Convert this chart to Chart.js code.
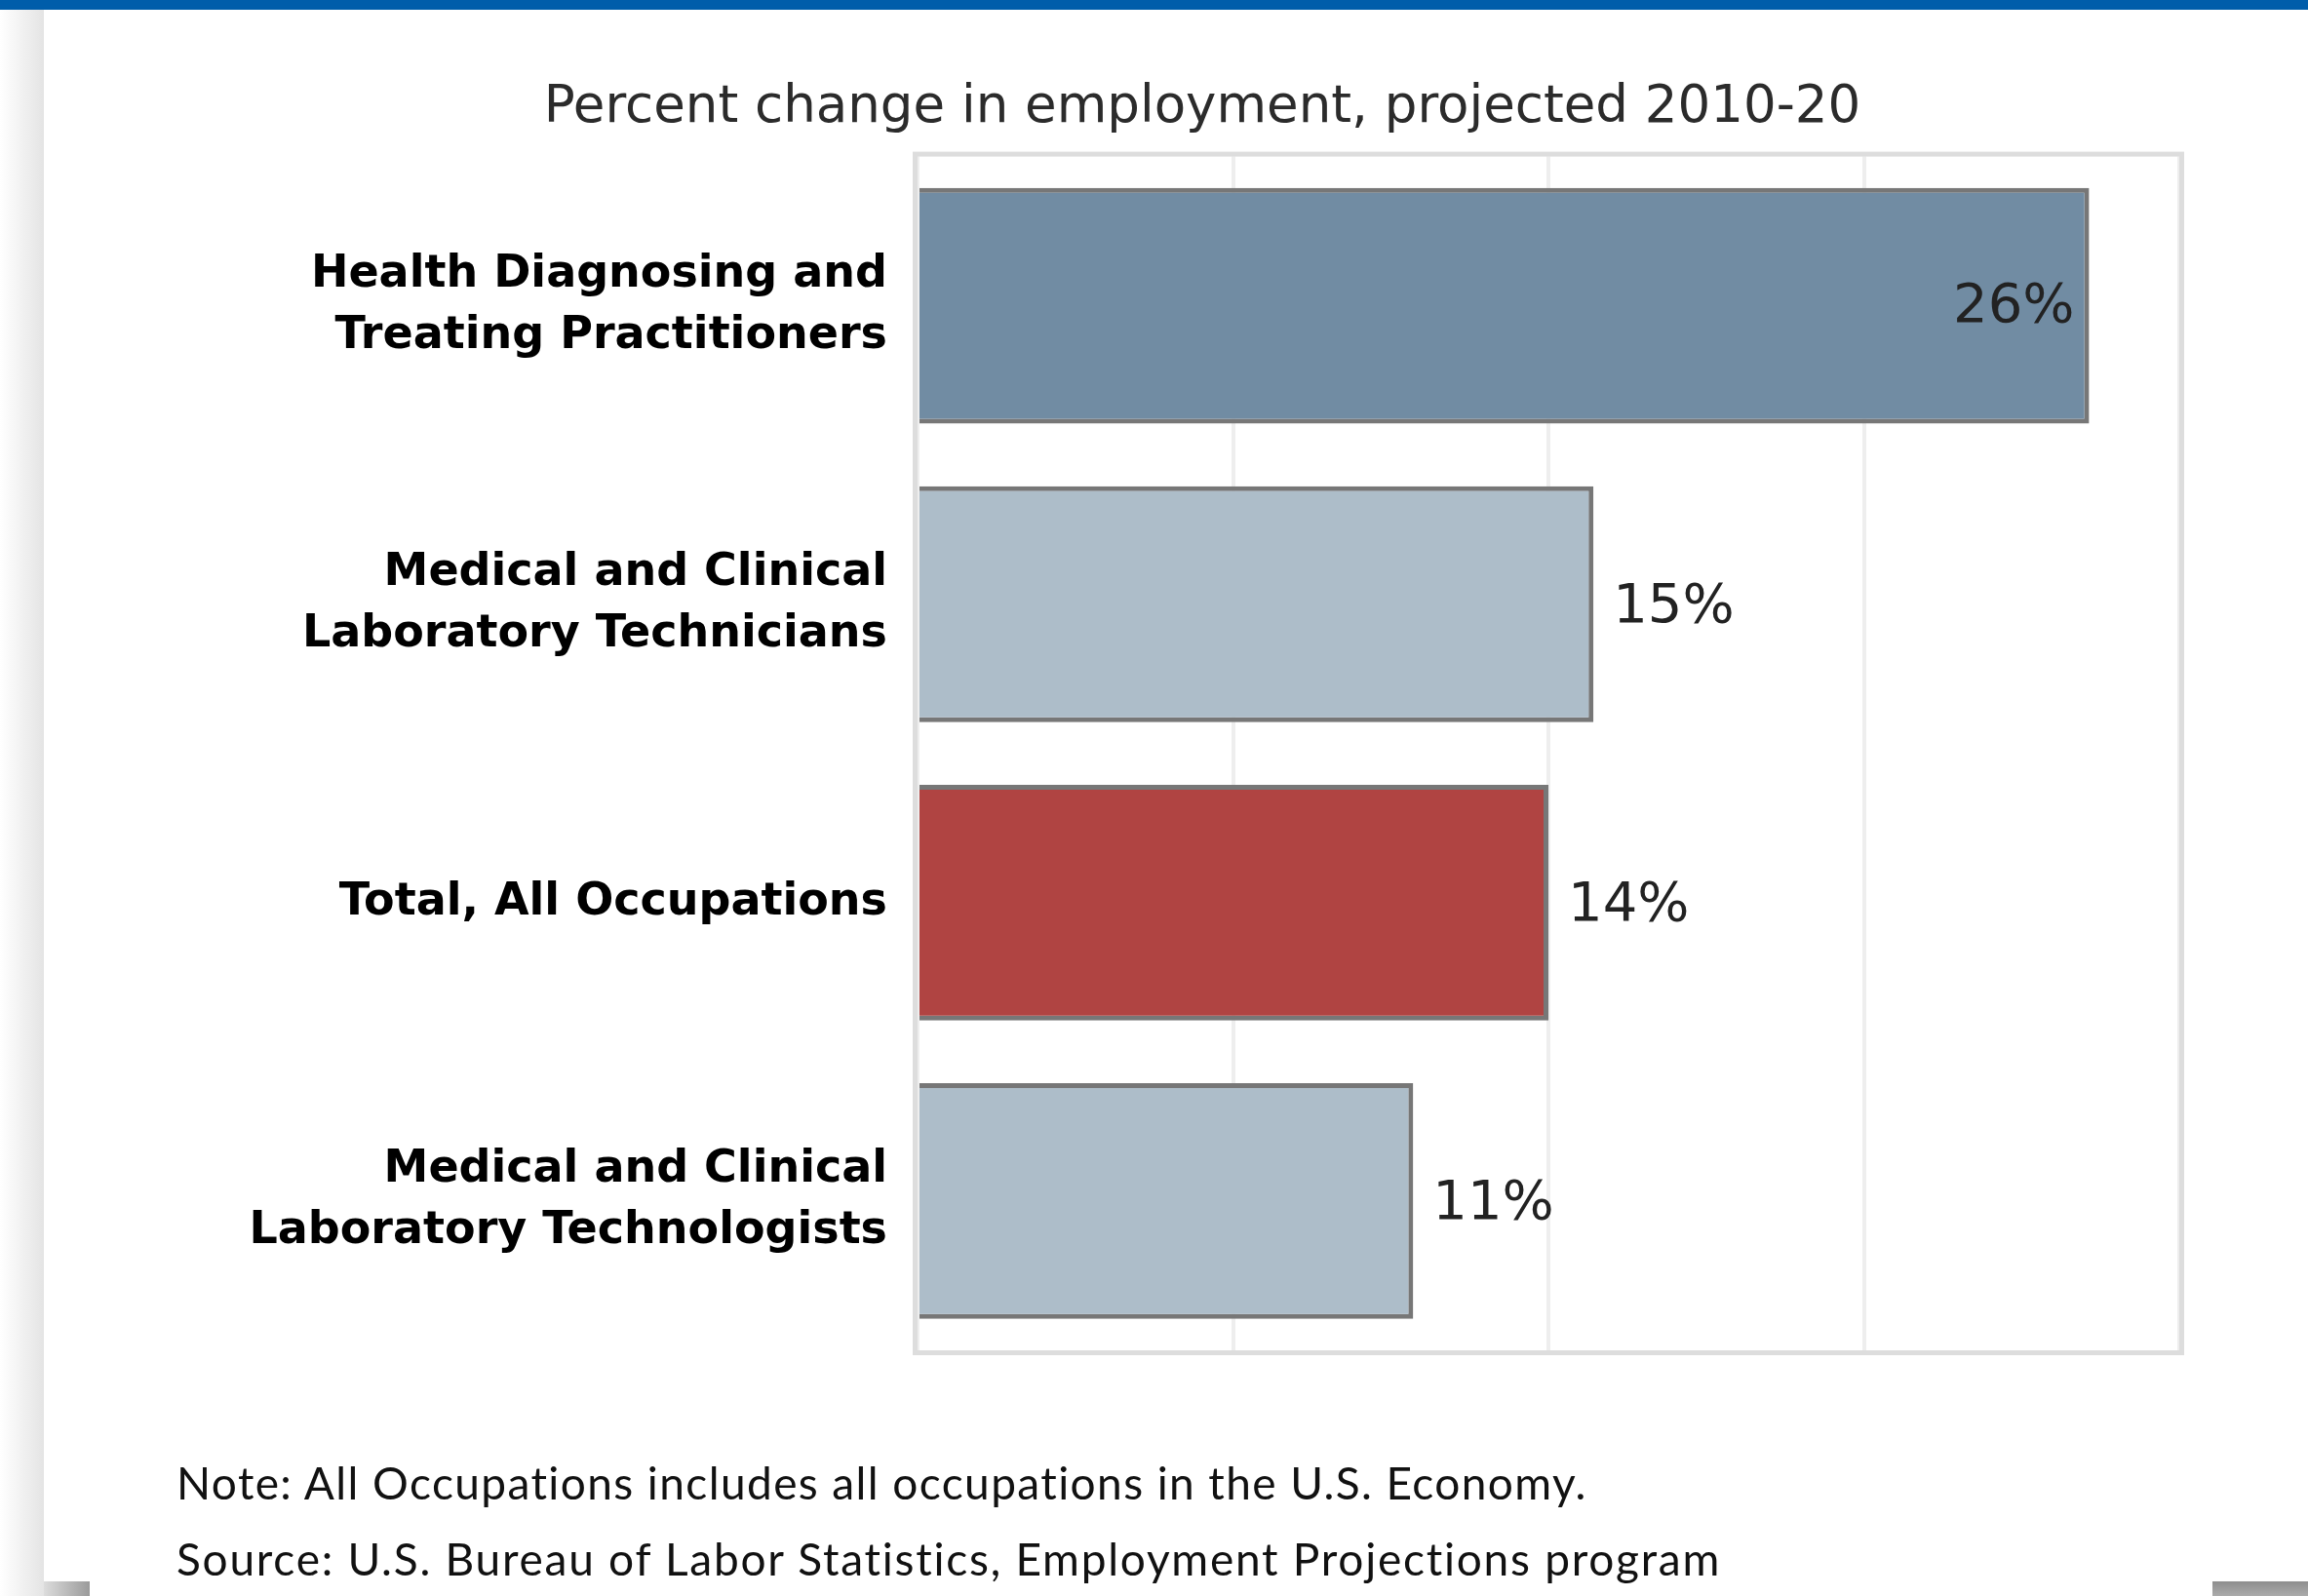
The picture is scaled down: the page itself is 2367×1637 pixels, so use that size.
<!DOCTYPE html>
<html>
<head>
<meta charset="utf-8">
<script src="https://cdn.jsdelivr.net/npm/chart.js@4.4.1/dist/chart.umd.min.js"></script>
<style>
  html, body { margin: 0; padding: 0; background: #fff; }
  body { width: 2367px; height: 1637px; position: relative; overflow: hidden; }
  #topbar { position: absolute; left: 0; top: 0; width: 2367px; height: 10px; background: #005daa; }
  #shadowLeft { position: absolute; left: 0; top: 10px; width: 45px; height: 1627px;
    background: linear-gradient(to right, #ffffff, #e4e4e4); }
  #shadowBL { position: absolute; left: 45px; top: 1622px; width: 47px; height: 15px;
    background: linear-gradient(to right, #dcdcdc, #9a9a9a); }
  #shadowBR { position: absolute; left: 2269px; top: 1622px; width: 98px; height: 15px;
    background: linear-gradient(to bottom, #8e8e8e, #ababab); }
  #wrap { position: absolute; left: 0; top: 0; width: 2367px; height: 1637px; }
  .note { position: absolute; left: 181px; font-family: Lato, "Open Sans", sans-serif;
    font-size: 46px; letter-spacing: 1.4px; color: #111; white-space: nowrap; line-height: 1; }
</style>
</head>
<body>
<div id="topbar"></div>
<div id="shadowLeft"></div>
<div id="shadowBL"></div>
<div id="shadowBR"></div>
<div id="wrap"><canvas id="chart"></canvas></div>
<div class="note" id="note1" style="top:1498px;"></div>
<div class="note" id="note2" style="top:1576px; letter-spacing:1.75px;"></div>
<script>
const chartTitle = "Percent change in employment, projected 2010-20";
const categories = [
    ["Health Diagnosing and", "Treating Practitioners"],
    ["Medical and Clinical", "Laboratory Technicians"],
    ["Total, All Occupations"],
    ["Medical and Clinical", "Laboratory Technologists"]
];
const values = [26, 15, 14, 11];
const barColors = ["#718ca3", "#adbdc9", "#b04442", "#adbdc9"];
const axisMin = 0;
const axisMax = 28;
const axisStep = 7;
const noteText = "Note: All Occupations includes all occupations in the U.S. Economy.";
const sourceText = "Source: U.S. Bureau of Labor Statistics, Employment Projections program";

document.getElementById("note1").textContent = noteText;
document.getElementById("note2").textContent = sourceText;

// light grey frame round the plot area, under the bars
const plotFrame = {
    id: "plotFrame",
    beforeDatasetsDraw(chart) {
        const a = chart.chartArea;
        const ctx = chart.ctx;
        ctx.save();
        ctx.strokeStyle = "#dddddd";
        ctx.lineWidth = 5;
        ctx.strokeRect(a.left - 2.5, a.top - 2.5, a.right - a.left + 5, a.bottom - a.top + 5);
        ctx.restore();
    }
};

// percent labels at the end of each bar
const valueLabels = {
    id: "valueLabels",
    afterDatasetsDraw(chart) {
        const ctx = chart.ctx;
        const meta = chart.getDatasetMeta(0);
        ctx.save();
        ctx.font = "56px 'DejaVu Sans'";
        ctx.fillStyle = "#222222";
        ctx.textBaseline = "middle";
        meta.data.forEach((bar, i) => {
            const txt = values[i] + "%";
            const w = ctx.measureText(txt).width;
            if (bar.x + w + 30 > chart.chartArea.right) {
                ctx.textAlign = "right";
                ctx.fillText(txt, bar.x - 15, bar.y + 2);
            } else {
                ctx.textAlign = "left";
                ctx.fillText(txt, bar.x + 20, bar.y + 4);
            }
        });
        ctx.restore();
    }
};

const canvas = document.getElementById("chart");
canvas.width = 2367;
canvas.height = 1637;

new Chart(canvas.getContext("2d"), {
    type: "bar",
    data: {
        labels: categories,
        datasets: [{
            data: values,
            backgroundColor: barColors,
            borderColor: "#777777",
            borderWidth: 5,
            barPercentage: 0.79,
            categoryPercentage: 1
        }]
    },
    options: {
        indexAxis: "y",
        responsive: false,
        animation: false,
        layout: { padding: { left: 231, right: 132, top: 0, bottom: 252 } },
        plugins: {
            legend: { display: false },
            tooltip: { enabled: false },
            title: {
                display: true,
                text: chartTitle,
                color: "#2b2b2b",
                font: { family: "'DejaVu Sans'", size: 53, weight: "normal" },
                padding: { top: 79, bottom: 18 }
            }
        },
        scales: {
            x: {
                min: axisMin,
                max: axisMax,
                ticks: { display: false, stepSize: axisStep },
                grid: { color: "#eeeeee", lineWidth: 4, drawTicks: false },
                border: { display: false }
            },
            y: {
                afterFit(scale) { scale.width = 710; },
                ticks: {
                    color: "#000000",
                    padding: 31,
                    font: { family: "'DejaVu Sans'", size: 46, weight: "bold", lineHeight: 1.37 }
                },
                grid: { display: false, drawTicks: false },
                border: { display: false }
            }
        }
    },
    plugins: [plotFrame, valueLabels]
});
</script>
</body>
</html>
